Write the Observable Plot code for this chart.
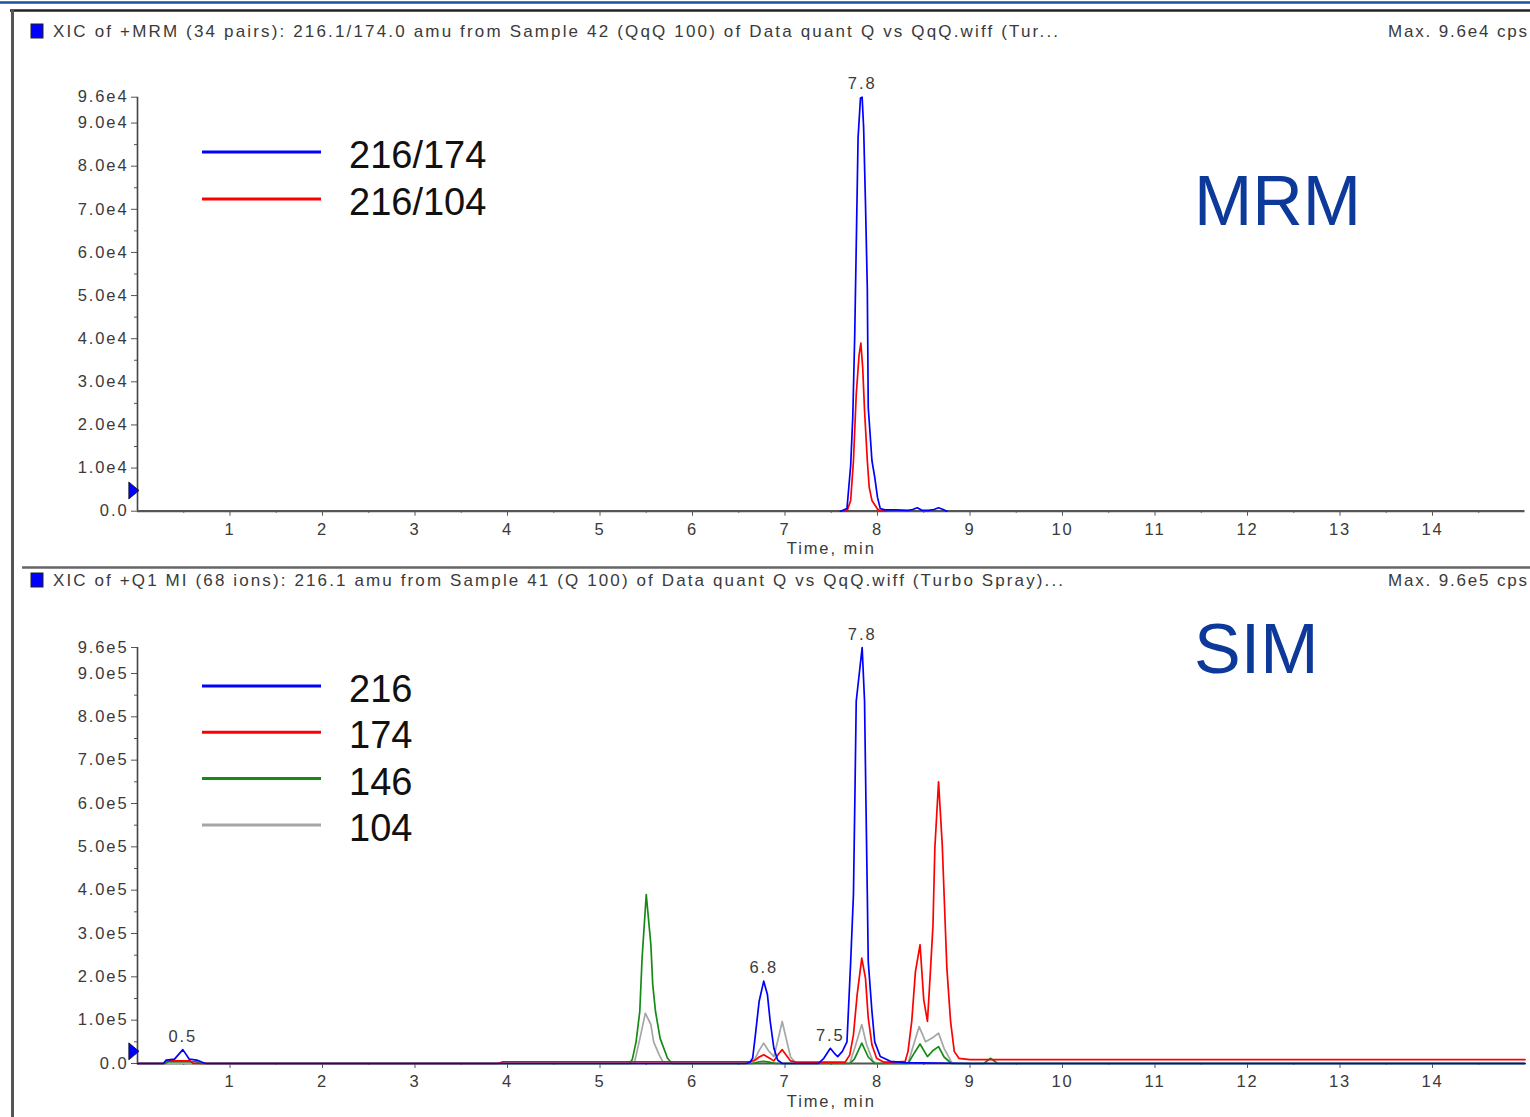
<!DOCTYPE html>
<html>
<head>
<meta charset="utf-8">
<script src="https://cdn.jsdelivr.net/npm/d3@7"></script>
<script src="https://cdn.jsdelivr.net/npm/@observablehq/plot@0.6"></script>
<style>
  html, body { margin: 0; padding: 0; background: #fff; }
  body { width: 1530px; height: 1117px; overflow: hidden; position: relative;
         font-family: "Liberation Sans", Arial, sans-serif; }
  .panel { position: absolute; left: 0; }
  #frame { position: absolute; left: 0; top: 0; pointer-events: none; }
</style>
</head>
<body>
<div id="mrm" class="panel" style="top:40px"></div>
<div id="sim" class="panel" style="top:590px"></div>
<svg id="frame" width="1530" height="1117"></svg>
<script>
// ---------- shared axis ticks ----------
const timeTicks = [1, 2, 3, 4, 5, 6, 7, 8, 9, 10, 11, 12, 13, 14];
const timeMinorTicks = [0.5, 1.5, 2.5, 3.5, 4.5, 5.5, 6.5, 7.5, 8.5, 9.5, 10.5, 11.5, 12.5, 13.5, 14.5];
const timeDomain = [0, 15];

// ---------- MRM panel (216 -> 174 / 104 transitions) ----------
const mrmTitle = "XIC of +MRM (34 pairs): 216.1/174.0 amu from Sample 42 (QqQ 100) of Data quant Q vs QqQ.wiff (Tur...";
const mrmMax = "Max. 9.6e4 cps";
const mrmSeries = ["216/174", "216/104"];
const mrmColors = ["#0000ff", "#ff0000"];
const mrmYTicks = [0, 10000, 20000, 30000, 40000, 50000, 60000, 70000, 80000, 90000, 96000];
const mrmYMinor = [5000, 15000, 25000, 35000, 45000, 55000, 65000, 75000, 85000];
const mrmYMax = 96000;

const mrmTime174 = [7.60, 7.67, 7.71, 7.733, 7.754, 7.773, 7.79, 7.816, 7.834, 7.85, 7.87, 7.89, 7.90, 7.925, 7.94, 7.97, 8.00, 8.03, 8.08, 8.20, 8.33, 8.38, 8.43, 8.48, 8.55, 8.61, 8.66, 8.71, 8.75];
const mrmInt174  = [0, 600, 10600, 22000, 41000, 65000, 86600, 95800, 96000, 89000, 71500, 51500, 24000, 16400, 11700, 7900, 3200, 600, 300, 300, 200, 400, 800, 200, 200, 400, 800, 400, 0];
const mrmTime104 = [7.62, 7.67, 7.71, 7.74, 7.77, 7.80, 7.82, 7.84, 7.86, 7.89, 7.91, 7.94, 8.00, 8.03, 8.10];
const mrmInt104  = [0, 0, 2500, 11700, 27000, 36000, 39000, 33300, 23300, 11700, 5600, 2500, 500, 0, 0];

const mrmPeakTime = [7.834];
const mrmPeakInt = [96000];
const mrmMarker = [4800];

// ---------- SIM panel (m/z 216, 174, 146, 104) ----------
const simTitle = "XIC of +Q1 MI (68 ions): 216.1 amu from Sample 41 (Q 100) of Data quant Q vs QqQ.wiff (Turbo Spray)...";
const simMax = "Max. 9.6e5 cps";
const simSeries = ["216", "174", "146", "104"];
const simColors = ["#0000ff", "#ff0000", "#168a16", "#a6a6a6"];
const simYTicks = [0, 100000, 200000, 300000, 400000, 500000, 600000, 700000, 800000, 900000, 960000];
const simYMinor = [50000, 150000, 250000, 350000, 450000, 550000, 650000, 750000, 850000];
const simYMax = 960000;

const simTime216 = [0, 0.28, 0.31, 0.40, 0.49, 0.56, 0.64, 0.70, 0.74, 6.58, 6.62, 6.65, 6.68, 6.72, 6.77, 6.81, 6.84, 6.88, 6.92, 6.97, 7.36, 7.42, 7.49, 7.54, 7.57, 7.62, 7.67, 7.71, 7.74, 7.755, 7.77, 7.834, 7.86, 7.875, 7.89, 7.90, 7.94, 7.97, 8.03, 8.14, 8.30, 9.0, 15];
const simInt216  = [0, 0, 8000, 10000, 32000, 10000, 8000, 3000, 0, 0, 3000, 12000, 66000, 143000, 190000, 159000, 97000, 35000, 8000, 0, 0, 12000, 35000, 22000, 16000, 28000, 50000, 235000, 390000, 605000, 836000, 960000, 836000, 605000, 390000, 235000, 120000, 50000, 16000, 5000, 2000, 0, 0];

const simTime174 = [0, 0.28, 0.31, 0.57, 0.60, 3.90, 3.95, 6.62, 6.68, 6.72, 6.77, 6.82, 6.88, 6.93, 6.97, 7.01, 7.06, 7.12, 7.65, 7.70, 7.74, 7.78, 7.83, 7.87, 7.90, 7.94, 7.99, 8.07, 8.20, 8.30, 8.33, 8.37, 8.41, 8.46, 8.50, 8.54, 8.57, 8.60, 8.62, 8.66, 8.70, 8.72, 8.75, 8.79, 8.83, 8.88, 9.0, 15];
const simInt174  = [0, 0, 6000, 6000, 0, 0, 4000, 4000, 8000, 15000, 20000, 14000, 6000, 22000, 32000, 20000, 6000, 3000, 3000, 20000, 66000, 159000, 243000, 197000, 105000, 43000, 12000, 3000, 3000, 5000, 28000, 97000, 212000, 274000, 147000, 97000, 205000, 320000, 497000, 650000, 505000, 390000, 220000, 97000, 28000, 12000, 9000, 9000];

const simTime146 = [0, 0.30, 0.33, 0.64, 0.68, 5.32, 5.35, 5.39, 5.43, 5.455, 5.50, 5.55, 5.57, 5.60, 5.65, 5.73, 5.78, 6.65, 6.72, 6.77, 6.83, 6.90, 7.70, 7.75, 7.83, 7.90, 7.97, 8.33, 8.40, 8.46, 8.54, 8.60, 8.66, 8.72, 8.80, 9.15, 9.22, 9.30, 15];
const simInt146  = [0, 0, 4000, 4000, 0, 0, 10000, 50000, 120000, 243000, 390000, 274000, 182000, 120000, 58000, 12000, 0, 0, 4000, 5000, 3000, 0, 0, 10000, 47000, 15000, 0, 0, 25000, 45000, 16000, 30000, 39000, 15000, 0, 0, 12000, 0, 0];

const simTime104 = [0, 5.37, 5.40, 5.44, 5.49, 5.55, 5.58, 5.64, 5.69, 6.65, 6.72, 6.77, 6.82, 6.88, 6.93, 6.97, 7.01, 7.06, 7.12, 7.70, 7.76, 7.83, 7.88, 7.95, 8.00, 8.33, 8.40, 8.45, 8.52, 8.60, 8.66, 8.72, 8.80, 8.85, 15];
const simInt104  = [0, 0, 28000, 66000, 116000, 90000, 50000, 20000, 0, 0, 30000, 47000, 30000, 16000, 60000, 97000, 60000, 15000, 0, 0, 40000, 90000, 45000, 5000, 0, 0, 50000, 85000, 50000, 60000, 70000, 35000, 3000, 0, 0];

const simPeakTime = [0.49, 6.77, 7.49, 7.834];
const simPeakInt = [32000, 190000, 35000, 960000];
const simMarker = [28000];

// ---------- helpers ----------
const toRows = (series, times, values) => times.map((t, i) => ({series, t, v: values[i]}));
const sciFormat = d => d === 0 ? "0.0" : d3.format(".1e")(d).replace("+", "");

// right-pointing triangle used for the threshold marker on the intensity axis
const rightTriangle = {
  draw(context, size) {
    const h = Math.sqrt(size) * 0.8;
    context.moveTo(-h * 0.55, -h);
    context.lineTo(h * 0.65, 0);
    context.lineTo(-h * 0.55, h);
    context.closePath();
  }
};

function chromatogram({traces, series, colors, yTicks, yMinor, yMax, peaks, marker, height, marginTop, marginBottom}) {
  return Plot.plot({
    width: 1530,
    height,
    marginLeft: 137,
    marginRight: 5.5,
    marginTop,
    marginBottom,
    x: {domain: timeDomain, label: null},
    y: {domain: [0, yMax], label: null},
    color: {domain: series, range: colors},
    style: {
      fontFamily: "'Liberation Sans', Arial, sans-serif",
      fontSize: "16.5px",
      letterSpacing: "1.9px",
      color: "#3a3a3a",
      background: "transparent",
      overflow: "visible"
    },
    marks: [
      Plot.axisY(yTicks, {tickSize: 6, tickPadding: 3, tickFormat: sciFormat, stroke: "#555", label: null}),
      Plot.axisY(yMinor, {tickSize: 3, tickFormat: () => "", stroke: "#555", label: null}),
      Plot.axisX(timeTicks, {tickSize: 5, tickPadding: 7, tickFormat: d => String(d), stroke: "#555", label: null}),
      Plot.axisX(timeMinorTicks, {tickSize: 2, tickFormat: () => "", stroke: "#333", label: null}),
      Plot.ruleX([0], {stroke: "#444", strokeWidth: 1.6}),
      Plot.ruleY([0], {stroke: "#555", strokeWidth: 2.2}),
      // traces, drawn so that the first series ends up on top
      ...traces.slice().reverse().map(rows =>
        Plot.line(rows, {x: "t", y: "v", stroke: "series", strokeWidth: 1.7, curve: "linear"})
      ),
      Plot.text(peaks, {
        x: "t", y: "v", text: d => d.t.toFixed(1), dy: -13,
        fill: "#3a3a3a", fontSize: 16.5
      }),
      Plot.dot(marker, {
        x: 0, y: d => d, dx: -4, r: 6, symbol: rightTriangle,
        fill: "#0000ff", stroke: "#111", strokeWidth: 0.8
      }),
      Plot.text(["Time, min"], {frameAnchor: "bottom", dy: 43, fill: "#3a3a3a", fontSize: 16.5})
    ]
  });
}

// ---------- panels ----------
const mrmPlot = chromatogram({
  traces: [toRows("216/174", mrmTime174, mrmInt174), toRows("216/104", mrmTime104, mrmInt104)],
  series: mrmSeries, colors: mrmColors,
  yTicks: mrmYTicks, yMinor: mrmYMinor, yMax: mrmYMax,
  peaks: mrmPeakTime.map((t, i) => ({t, v: mrmPeakInt[i]})),
  marker: mrmMarker,
  height: 526, marginTop: 56.7, marginBottom: 55.3
});
document.getElementById("mrm").append(mrmPlot);

const simPlot = chromatogram({
  traces: [
    toRows("216", simTime216, simInt216),
    toRows("174", simTime174, simInt174),
    toRows("146", simTime146, simInt146),
    toRows("104", simTime104, simInt104)
  ],
  series: simSeries, colors: simColors,
  yTicks: simYTicks, yMinor: simYMinor, yMax: simYMax,
  peaks: simPeakTime.map((t, i) => ({t, v: simPeakInt[i]})),
  marker: simMarker,
  height: 527, marginTop: 57, marginBottom: 54
});
document.getElementById("sim").append(simPlot);

// ---------- window frame, headers, legends and panel tags ----------
const frame = d3.select("#frame");
frame.append("line").attr("x1", 0).attr("x2", 1530).attr("y1", 2.5).attr("y2", 2.5)
  .attr("stroke", "#1f4f9f").attr("stroke-width", 2.5);
frame.append("line").attr("x1", 10).attr("x2", 1530).attr("y1", 10.5).attr("y2", 10.5)
  .attr("stroke", "#222").attr("stroke-width", 2.5);
frame.append("line").attr("x1", 12.5).attr("x2", 12.5).attr("y1", 10).attr("y2", 1117)
  .attr("stroke", "#555").attr("stroke-width", 3);
frame.append("line").attr("x1", 22).attr("x2", 1530).attr("y1", 567.5).attr("y2", 567.5)
  .attr("stroke", "#666").attr("stroke-width", 2.5);

function header(y, title, titleWidth, maxText) {
  frame.append("rect").attr("x", 31).attr("y", y - 7).attr("width", 12).attr("height", 14)
    .attr("fill", "#0000ff").attr("stroke", "#222").attr("stroke-width", 1);
  frame.append("text").attr("x", 53).attr("y", y + 6).text(title)
    .attr("textLength", titleWidth).attr("lengthAdjust", "spacing")
    .attr("font-family", "'Liberation Sans', Arial, sans-serif").attr("font-size", 17).attr("fill", "#3a3a3a");
  frame.append("text").attr("x", 1388).attr("y", y + 6).text(maxText)
    .attr("textLength", 139).attr("lengthAdjust", "spacing")
    .attr("font-family", "'Liberation Sans', Arial, sans-serif").attr("font-size", 17).attr("fill", "#3a3a3a");
}
header(31, mrmTitle, 1005, mrmMax);
header(580, simTitle, 1010, simMax);

function legend(series, colors, y0, step) {
  series.forEach((name, i) => {
    const y = y0 + i * step;
    frame.append("line").attr("x1", 202).attr("x2", 321).attr("y1", y).attr("y2", y)
      .attr("stroke", colors[i]).attr("stroke-width", 3);
    frame.append("text").attr("x", 349).attr("y", y + 16).text(name)
      .attr("font-family", "'Liberation Sans', Arial, sans-serif").attr("font-size", 38).attr("fill", "#111");
  });
}
legend(mrmSeries, mrmColors, 152, 47);
legend(simSeries, simColors, 686, 46.3);

function tag(x, y, label) {
  frame.append("text").attr("x", x).attr("y", y).text(label)
    .attr("font-family", "'Liberation Sans', Arial, sans-serif").attr("font-size", 70).attr("fill", "#0d3a9a");
}
tag(1194, 225, "MRM");
tag(1194, 673, "SIM");
</script>
</body>
</html>
